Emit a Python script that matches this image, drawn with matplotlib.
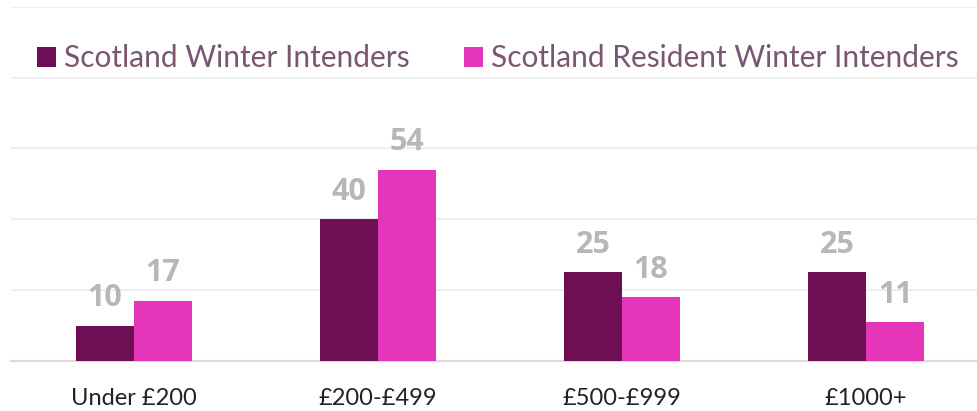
import numpy as np
import matplotlib.pyplot as plt

categories = ["Under £200", "£200-£499", "£500-£999", "£1000+"]
series_names = ["Scotland Winter Intenders", "Scotland Resident Winter Intenders"]
winter = [10, 40, 25, 25]
resident = [17, 54, 18, 11]

dark = "#6e0f55"
pink = "#e535b8"

plt.rcParams['font.family'] = ['Lato', 'DejaVu Sans']

fig = plt.figure(figsize=(9.78, 4.11), dpi=100)
ax = fig.add_axes([0.0112, 0.1217, 0.9888, 0.8617])

x = np.arange(len(categories))
w = 0.238
b1 = ax.bar(x - w/2, winter, w, color=dark, label=series_names[0], zorder=3)
b2 = ax.bar(x + w/2, resident, w, color=pink, label=series_names[1], zorder=3)

# value labels above each bar
for bars in (b1, b2):
    for r in bars:
        ax.annotate(f"{r.get_height():.0f}", (r.get_x() + r.get_width()/2, r.get_height()),
                    xytext=(0, 9), textcoords="offset points", ha="center", va="bottom",
                    fontsize=22, fontweight="bold", color="#b8b6b8",
                    family=["Open Sans", "DejaVu Sans"])

ax.set_ylim(0, 100)
ax.set_xlim(-0.504, 3.459)
ax.set_yticks(np.arange(0, 101, 20))
ax.yaxis.grid(True, color="#eeeeee", linewidth=1.5, zorder=0)
ax.tick_params(left=False, labelleft=False, bottom=False)
ax.set_xticks(x)
ax.set_xticklabels(categories, fontsize=17, color="#222222")
ax.tick_params(axis="x", pad=16)
for s in ("top", "right", "left"):
    ax.spines[s].set_visible(False)
ax.spines["bottom"].set_color("#e2d6de")
ax.spines["bottom"].set_linewidth(1.5)

leg = ax.legend(loc="upper left", bbox_to_anchor=(0.0145, 0.928), ncol=2, frameon=False,
                fontsize=21.5, handlelength=0.64, handleheight=0.64, handletextpad=0.28,
                columnspacing=1.8, borderaxespad=0)
for t in leg.get_texts():
    t.set_color("#7a5673")

fig.savefig("out.png", dpi=100)
